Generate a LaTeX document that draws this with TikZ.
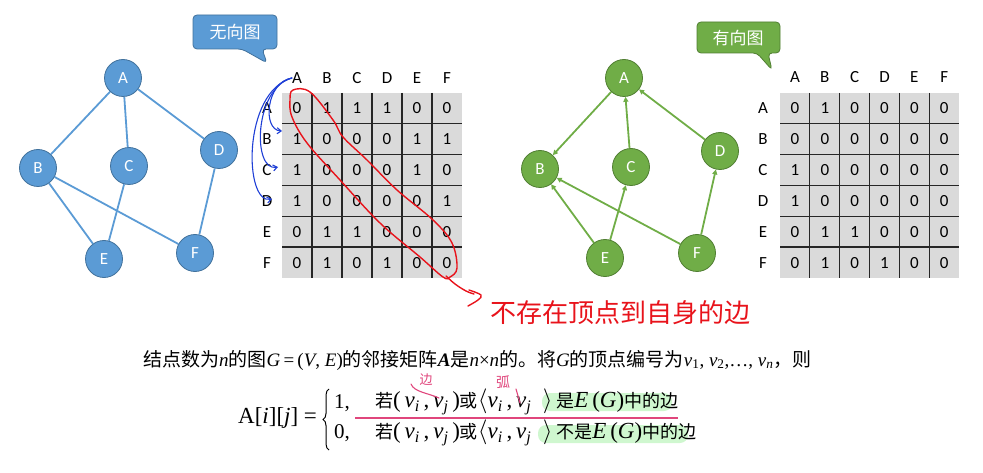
\documentclass[tikz,border=0pt]{standalone}
\usepackage{fontspec}
\setmainfont{Liberation Serif}
\newfontfamily\cjk{Noto Sans CJK SC}
\newfontfamily\carl{Carlito}
\usetikzlibrary{arrows.meta,decorations.pathreplacing}
\definecolor{bluefill}{HTML}{5B9BD5}
\definecolor{blueline}{HTML}{41719C}
\definecolor{greenfill}{HTML}{70AD47}
\definecolor{greenline}{HTML}{507E32}
\definecolor{cellgray}{HTML}{DADADA}
\definecolor{penred}{HTML}{E8131B}
\definecolor{penblue}{HTML}{1F3FD6}
\definecolor{penpink}{HTML}{E0467C}
\definecolor{hlgreen}{HTML}{CFF7CF}
\begin{document}
\begin{tikzpicture}[x=1pt,y=-1pt,
  gnodeB/.style={circle, fill=bluefill, draw=blueline, line width=0.8pt, minimum size=37pt, inner sep=0pt, text=white, font=\carl\fontsize{17}{17}\selectfont},
  gnodeG/.style={circle, fill=greenfill, draw=greenline, line width=0.8pt, minimum size=37pt, inner sep=0pt, text=white, font=\carl\fontsize{17}{17}\selectfont},
  uedge/.style={draw=bluefill, line width=1.8pt},
  dedge/.style={draw=greenfill, line width=1.8pt, -{Triangle[length=5pt,width=5pt]}},
  cell/.style={font=\carl\fontsize{17}{17}\selectfont, inner sep=0pt},
  lab/.style={font=\carl\fontsize{17}{17}\selectfont, inner sep=0pt},
  gridline/.style={line width=1.3pt, draw=black!85},
  callout/.style={line width=0.8pt, rounded corners=4pt},
  calltext/.style={text=white, font=\cjk\fontsize{17}{17}\selectfont},
  redpen/.style={draw=penred, line width=1.4pt, line cap=round, line join=round},
  bluepen/.style={draw=penblue, line width=1.1pt, line cap=round, -{Straight Barb[length=4pt,width=6pt]}},
  pinkpen/.style={draw=penpink, line width=1.1pt, line cap=round},
  formula/.style={font=\fontsize{23}{23}\selectfont, inner sep=0pt, anchor=west},
  hl/.style={fill=hlgreen, rounded corners=8pt},
  bracestyle/.style={draw=black, line width=1pt, decorate, decoration={brace, amplitude=6pt}}
]
\useasboundingbox (0,0) rectangle (983,473);

% ---------- Undirected graph ----------
\node[gnodeB] (lA) at (123,78) {A};
\node[gnodeB] (lB) at (38,168) {B};
\node[gnodeB] (lC) at (129,166) {C};
\node[gnodeB] (lD) at (219,150) {D};
\node[gnodeB] (lE) at (104,259) {E};
\node[gnodeB] (lF) at (195,253) {F};
\draw[uedge] (lA) -- (lB);
\draw[uedge] (lA) -- (lC);
\draw[uedge] (lA) -- (lD);
\draw[uedge] (lB) -- (lE);
\draw[uedge] (lB) -- (lF);
\draw[uedge] (lC) -- (lE);
\draw[uedge] (lD) -- (lF);

% callout
\draw[callout, fill=bluefill, draw=blueline] (193,15) -- (277,15) -- (277,49) -- (262,49) -- (267,63) -- (242,49) -- (193,49) -- cycle;
\node[calltext] (cU) at (235,32) {无向图};

% ---------- Left matrix ----------
\fill[cellgray] (282,93) rectangle (462,278);
\foreach \i in {1,...,5} {
  \draw[gridline] ({282+30*\i},93) -- ({282+30*\i},278);
  \draw[gridline] (282,{93+30.83*\i}) -- (462,{93+30.83*\i});
}
\foreach \l [count=\c from 0] in {A,B,C,D,E,F} {
  \node[lab] (Lh\l) at ({297+30*\c},78) {\l};
  \node[lab] (Lr\l) at (267,{108.4+30.83*\c}) {\l};
}
\foreach \row [count=\r from 0] in {{0,1,1,1,0,0},{1,0,0,0,1,1},{1,0,0,0,1,0},{1,0,0,0,0,1},{0,1,1,0,0,0},{0,1,0,1,0,0}} {
  \foreach \v [count=\c from 0] in \row {
    \node[cell] (L\r-\c) at ({297+30*\c},{108.4+30.83*\r}) {\v};
  }
}

% ---------- Directed graph ----------
\node[gnodeG] (rA) at (624,78) {A};
\node[gnodeG] (rB) at (540,169) {B};
\node[gnodeG] (rC) at (631,167) {C};
\node[gnodeG] (rD) at (720,151) {D};
\node[gnodeG] (rE) at (605,258) {E};
\node[gnodeG] (rF) at (697,253) {F};
\draw[dedge] (rA) -- (rB);
\draw[dedge] (rC) -- (rA);
\draw[dedge] (rD) -- (rA);
\draw[dedge] (rE) -- (rB);
\draw[dedge] (rE) -- (rC);
\draw[dedge] (rF) -- (rB);
\draw[dedge] (rF) -- (rD);

\draw[callout, fill=greenfill, draw=greenline] (697,22) -- (780,22) -- (780,53) -- (768,53) -- (772,70) -- (757,53) -- (697,53) -- cycle;
\node[calltext] (cD) at (738,38) {有向图};

% ---------- Right matrix ----------
\fill[cellgray] (780,93) rectangle (959,278);
\foreach \i in {1,...,5} {
  \draw[gridline] ({780+29.83*\i},93) -- ({780+29.83*\i},278);
  \draw[gridline] (780,{93+30.83*\i}) -- (959,{93+30.83*\i});
}
\foreach \l [count=\c from 0] in {A,B,C,D,E,F} {
  \node[lab] (Rh\l) at ({795+29.83*\c},77) {\l};
  \node[lab] (Rr\l) at (763,{108.4+30.83*\c}) {\l};
}
\foreach \row [count=\r from 0] in {{0,1,0,0,0,0},{0,0,0,0,0,0},{1,0,0,0,0,0},{1,0,0,0,0,0},{0,1,1,0,0,0},{0,1,0,1,0,0}} {
  \foreach \v [count=\c from 0] in \row {
    \node[cell] (R\r-\c) at ({795+29.83*\c},{108.4+30.83*\r}) {\v};
  }
}

% ---------- Hand annotations ----------
\coordinate (bB) at (282,131);
\coordinate (bC) at (278,167);
\coordinate (bD) at (272,199);
\draw[bluepen] (LhA.west) .. controls (266,82) and (262,130) .. (bB);
\draw[bluepen] (LhA.west) .. controls (254,88) and (252,172) .. (bC);
\draw[bluepen] (LhA.west) .. controls (242,92) and (244,205) .. (bD);

\draw[redpen] plot[smooth cycle, tension=0.6] coordinates {(293,90) (310,92) (333,120) (343,137) (367,160) (397,190) (433,220) (452,243) (457,268) (450,277) (443,277) (420,257) (380,223) (340,180) (307,143) (292,117) (290,100)};
\draw[redpen] plot[smooth, tension=0.6] coordinates {(446,276) (455,284) (466,291) (474,294)};
\draw[redpen] plot[smooth, tension=0.6] coordinates {(469,290) (481,295) (478,300) (468,306)};
\node[text=penred, font=\cjk\fontsize{26}{26}\selectfont, inner sep=0pt] (hand) at (620,313) {不存在顶点到自身的边};

% ---------- Definition text ----------
\node[font=\fontsize{19}{19}\selectfont, inner sep=0pt, anchor=west] (def) at (143,360)
 {{\cjk 结点数为}\textit{n}{\cjk 的图}\textit{G}\,=\,(\textit{V}, \textit{E}){\cjk 的邻接矩阵}\textbf{\textit{A}}{\cjk 是}\textit{n}×\textit{n}{\cjk 的。将}\textit{G}{\cjk 的顶点编号为}\textit{v}\textsubscript{1}, \textit{v}\textsubscript{2},…, \textit{v}\textsubscript{\textit{n}}{\cjk ，则}};

\fill[hl] (542,393) rectangle (672,411);
\fill[hl] (538,425) rectangle (688,443);

\node[formula] (lhs) at (238,418) {A[\textit{i}][\textit{j}] =};
\coordinate (braceT) at (329,389);
\coordinate (braceB) at (329,450);
\draw[bracestyle] (braceB) -- (braceT);
\node[formula, font=\fontsize{21}{21}\selectfont] (one) at (334,403) {1,};
\node[formula, font=\fontsize{21}{21}\selectfont] (zero) at (334,433) {0,};
\node[formula] (r1) at (375,402) {{\cjk\fontsize{18}{18}\selectfont 若}(\,\textit{v}\textsubscript{\textit{i}}\,,\,\textit{v}\textsubscript{\textit{j}}\,){\cjk\fontsize{18}{18}\selectfont 或}$\langle$\textit{v}\textsubscript{\textit{i}}\,,\,\textit{v}\textsubscript{\textit{j}}\ \ $\rangle$\,{\cjk\fontsize{18}{18}\selectfont 是}\textit{E}\,(\textit{G}){\cjk\fontsize{18}{18}\selectfont 中的边}};
\node[formula] (r2) at (375,433) {{\cjk\fontsize{18}{18}\selectfont 若}(\,\textit{v}\textsubscript{\textit{i}}\,,\,\textit{v}\textsubscript{\textit{j}}\,){\cjk\fontsize{18}{18}\selectfont 或}$\langle$\textit{v}\textsubscript{\textit{i}}\,,\,\textit{v}\textsubscript{\textit{j}}\ \ $\rangle$\,{\cjk\fontsize{18}{18}\selectfont 不是}\textit{E}\,(\textit{G}){\cjk\fontsize{18}{18}\selectfont 中的边}};
\draw[draw=penpink, line width=2pt] (355,418) -- (678,418);

\node[text=penpink, font=\cjk\fontsize{13}{13}\selectfont, inner sep=0pt] (bian) at (426,380) {边};
\draw[pinkpen] (411,384) .. controls (414,392) and (428,393) .. (439,398);
\node[text=penpink, font=\cjk\fontsize{14}{14}\selectfont, inner sep=0pt] (hu) at (503,382) {弧};
\draw[pinkpen] (516,389) -- (520,403);
\end{tikzpicture}
\end{document}
